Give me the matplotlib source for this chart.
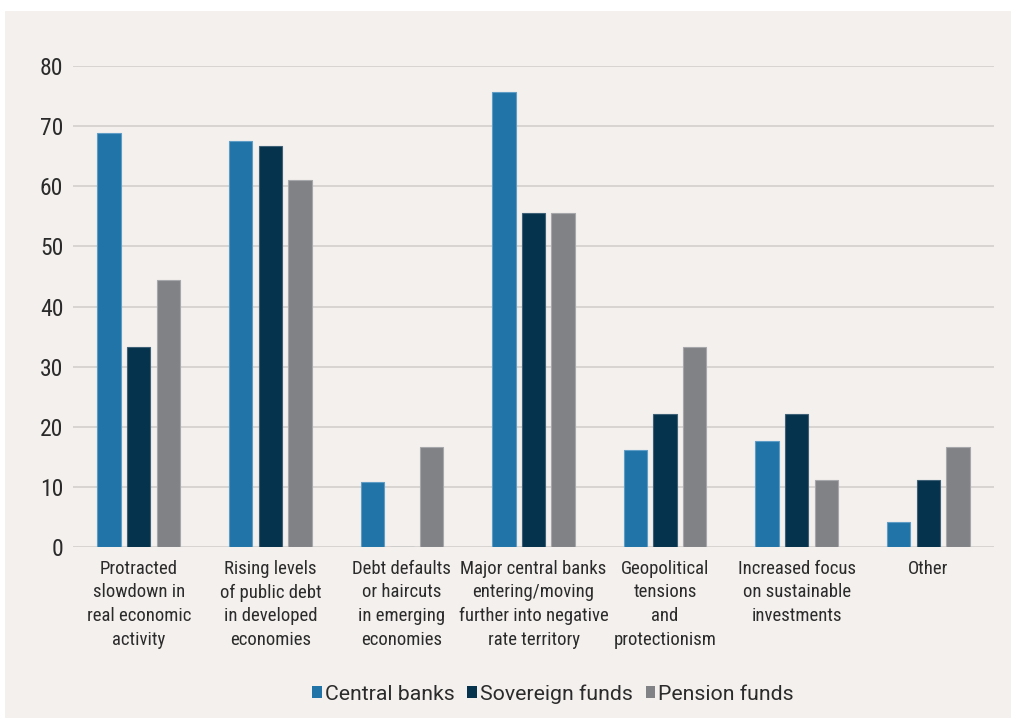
import numpy as np
import matplotlib.pyplot as plt
from matplotlib import font_manager as fm
from matplotlib.patches import Patch, Rectangle

categories = [
    "Protracted\nslowdown in\nreal economic\nactivity",
    "Rising levels\nof public debt\nin developed\neconomies",
    "Debt defaults\nor haircuts\nin emerging\neconomies",
    "Major central banks\nentering/moving\nfurther into negative\nrate territory",
    "Geopolitical\ntensions\nand\nprotectionism",
    "Increased focus\non sustainable\ninvestments",
    "Other",
]
central_banks = [68.9, 67.6, 10.8, 75.7, 16.2, 17.6, 4.1]
sovereign_funds = [33.3, 66.7, 0.0, 55.6, 22.2, 22.2, 11.1]
pension_funds = [44.4, 61.1, 16.7, 55.6, 33.3, 11.1, 16.7]
series_names = ["Central banks", "Sovereign funds", "Pension funds"]
yticks = [0, 10, 20, 30, 40, 50, 60, 70, 80]

colors = ["#2174a8", "#05324c", "#818286"]
edges = ["#5f9cc6", "#3f6178", "#a6a7aa"]
bg = "#f3f0ed"
text_c = "#2b2b2b"


def condensed_font():
    # prefer a narrow face for the category labels
    for f in fm.fontManager.ttflist:
        if f.name in ("Roboto Condensed", "Liberation Sans Narrow") and f.style == "normal" \
                and f.weight in (400, "normal", "regular"):
            return fm.FontProperties(fname=f.fname), f.name
    for f in fm.fontManager.ttflist:
        if f.name == "DejaVu Sans" and f.stretch == "condensed" and f.style == "normal" \
                and f.weight in (400, "normal", "book"):
            return fm.FontProperties(fname=f.fname), f.name
    return fm.FontProperties(family="Roboto"), "Roboto"


narrow, narrow_name = condensed_font()

fig = plt.figure(figsize=(10.12, 7.19), dpi=100, facecolor="white")
fig.patches.append(Rectangle((5 / 1012, 1 / 719), 1 - 5 / 1012, 1 - 12 / 719,
                             transform=fig.transFigure, facecolor=bg,
                             edgecolor="none", zorder=-10))

ax = fig.add_axes([73 / 1012, 1 - 547 / 719, (994 - 73) / 1012, (547 - 66) / 719])
ax.patch.set_alpha(0)

x = np.arange(len(categories))
w = 0.178
step = 0.225
for i, vals in enumerate([central_banks, sovereign_funds, pension_funds]):
    ax.bar(x + (i - 1) * step, vals, width=w, color=colors[i],
           edgecolor=edges[i], linewidth=0.8, zorder=3)

ax.set_xlim(-0.5, len(categories) - 0.5)
ax.set_ylim(0, 80)
ax.set_yticks(yticks)
ax.grid(axis="y", color="#d3cfcc", linewidth=1.2, zorder=0)
ax.set_axisbelow(True)
for s in ax.spines.values():
    s.set_visible(False)
ax.tick_params(length=0, colors=text_c)
ax.tick_params(axis="y", pad=7)
ax.tick_params(axis="x", pad=9)

if narrow_name == "Roboto":
    size_x, spacing = 12.3, 1.38
else:
    size_x, spacing = 13.5, 1.42
for lab in ax.get_yticklabels():
    lab.set_fontproperties(narrow)
    lab.set_fontsize(17)

ax.set_xticks(x)
ax.set_xticklabels(categories, color=text_c, linespacing=spacing, va="top")
for lab in ax.get_xticklabels():
    lab.set_fontproperties(narrow)
    lab.set_fontsize(size_x)

handles = [Patch(facecolor=c, edgecolor="none") for c in colors]
fig.legend(handles, series_names, loc="center",
           bbox_to_anchor=(553 / 1012, 1 - 694 / 719), ncol=3, frameon=False,
           handlelength=0.45, handleheight=0.45, handletextpad=0.15,
           columnspacing=0.6, labelcolor=text_c,
           prop={"family": ["Roboto", "DejaVu Sans"], "size": 15.3})

fig.savefig("out.png", dpi=100, facecolor="white")
